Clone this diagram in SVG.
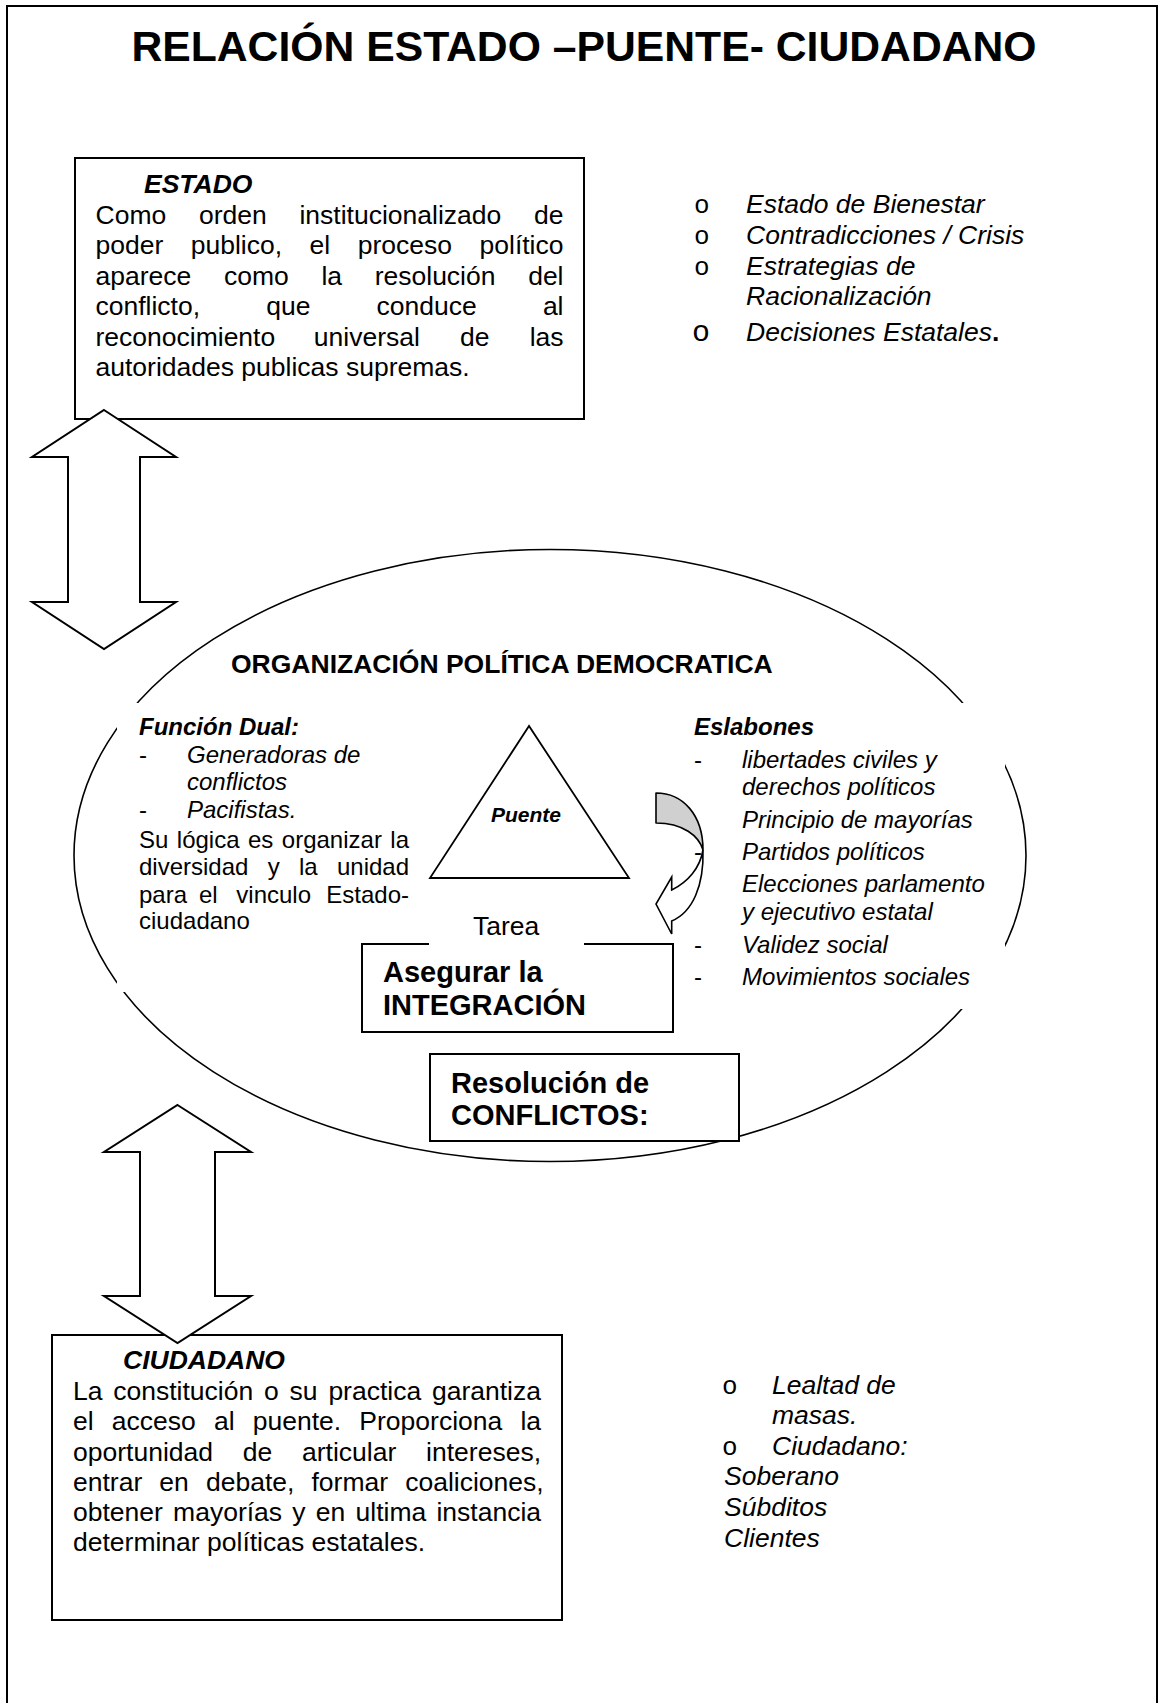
<svg xmlns="http://www.w3.org/2000/svg" width="1163" height="1703" viewBox="0 0 1163 1703">
<style>
text{font-family:"Liberation Sans",Arial,sans-serif;fill:#000}
.b{font-weight:bold}
.i{font-style:italic}
.bi{font-weight:bold;font-style:italic}
.m{font-family:"Liberation Mono","Courier New",monospace}
.box{fill:#fff;stroke:#000;stroke-width:2}
.wb{fill:#fff;stroke:none}
.blk{fill:#fff;stroke:#000;stroke-width:2;stroke-linejoin:miter}
.body{font-size:26.5px}
</style>
<rect width="1163" height="1703" fill="#fff"/>
<rect x="7" y="6" width="1150" height="1720" fill="none" stroke="#000" stroke-width="2"/>
<text id="title" class="b" x="584" y="61" font-size="42.7" text-anchor="middle">RELACIÓN ESTADO –PUENTE- CIUDADANO</text>

<g id="estado">
<rect class="box" x="75" y="158" width="509" height="261"/>
<text class="bi" x="144" y="193" font-size="26.5">ESTADO</text>
<text class="body"><tspan x="95.5" y="224">Como</tspan><tspan x="198.95" y="224">orden</tspan><tspan x="299.48" y="224">institucionalizado</tspan><tspan x="534.02" y="224">de</tspan></text>
<text class="body"><tspan x="95.5" y="254.4">poder</tspan><tspan x="190.78" y="254.4">publico,</tspan><tspan x="309.62" y="254.4">el</tspan><tspan x="357.76" y="254.4">proceso</tspan><tspan x="479.54" y="254.4">político</tspan></text>
<text class="body"><tspan x="95.5" y="284.8">aparece</tspan><tspan x="223.93" y="284.8">como</tspan><tspan x="321.4" y="284.8">la</tspan><tspan x="374.7" y="284.8">resolución</tspan><tspan x="528.15" y="284.8">del</tspan></text>
<text class="body"><tspan x="95.5" y="315.2">conflicto,</tspan><tspan x="266.22" y="315.2">que</tspan><tspan x="376.57" y="315.2">conduce</tspan><tspan x="542.89" y="315.2">al</tspan></text>
<text class="body"><tspan x="95.5" y="345.6">reconocimiento</tspan><tspan x="313.84" y="345.6">universal</tspan><tspan x="460.02" y="345.6">de</tspan><tspan x="529.64" y="345.6">las</tspan></text>
<text class="body" x="95.5" y="376">autoridades publicas supremas.</text>
</g>

<g id="estado-list">
<text class="m" x="694" y="213" font-size="26">o</text>
<text class="i" x="746" y="213" font-size="26.5">Estado de Bienestar</text>
<text class="m" x="694" y="243.5" font-size="26">o</text>
<text class="i" x="746" y="243.5" font-size="26.5">Contradicciones / Crisis</text>
<text class="m" x="694" y="274.5" font-size="26">o</text>
<text class="i" x="746" y="274.5" font-size="26.5">Estrategias de</text>
<text class="i" x="746" y="305" font-size="26.5">Racionalización</text>
<text class="m" x="692" y="341" font-size="30">o</text>
<text x="746" y="341" font-size="26.5"><tspan class="i">Decisiones Estatales</tspan><tspan class="b">.</tspan></text>
</g>

<g id="organizacion">
<ellipse cx="550" cy="855.5" rx="476" ry="306" fill="none" stroke="#000" stroke-width="1.6"/>
<text class="b" x="231" y="673" font-size="26.5">ORGANIZACIÓN POLÍTICA DEMOCRATICA</text>
</g>

<g id="funcion-dual">
<rect class="wb" x="117" y="703" width="295" height="289"/>
<text class="bi" x="139" y="735" font-size="24">Función Dual:</text>
<text x="139" y="763" font-size="24">-</text>
<text class="i" x="187" y="763" font-size="24">Generadoras de</text>
<text class="i" x="187" y="790" font-size="24">conflictos</text>
<text x="139" y="818" font-size="24">-</text>
<text class="i" x="187" y="818" font-size="24">Pacifistas.</text>
<text font-size="24"><tspan x="139" y="848">Su</tspan><tspan x="176.83" y="848">lógica</tspan><tspan x="248" y="848">es</tspan><tspan x="281.82" y="848">organizar</tspan><tspan x="390.33" y="848">la</tspan></text>
<text font-size="24"><tspan x="139" y="875">diversidad</tspan><tspan x="267.67" y="875">y</tspan><tspan x="298.97" y="875">la</tspan><tspan x="336.94" y="875">unidad</tspan></text>
<text font-size="24"><tspan x="139" y="903">para</tspan><tspan x="199" y="903">el</tspan><tspan x="236.31" y="903">vinculo</tspan><tspan x="326.31" y="903">Estado-</tspan></text>
<text x="139" y="929" font-size="24">ciudadano</text>
</g>

<g id="eslabones">
<rect class="wb" x="685" y="703" width="320" height="306"/>
<text class="bi" x="694" y="735" font-size="24">Eslabones</text>
<text x="694" y="768" font-size="24">-</text>
<text class="i" x="742" y="768" font-size="24">libertades civiles y</text>
<text class="i" x="742" y="795" font-size="24">derechos políticos</text>
<text class="i" x="742" y="828" font-size="24">Principio de mayorías</text>
<text x="694" y="860" font-size="24">-</text>
<text class="i" x="742" y="860" font-size="24">Partidos políticos</text>
<text class="i" x="742" y="892" font-size="24">Elecciones parlamento</text>
<text class="i" x="742" y="920" font-size="24">y ejecutivo estatal</text>
<text x="694" y="953" font-size="24">-</text>
<text class="i" x="742" y="953" font-size="24">Validez social</text>
<text x="694" y="985" font-size="24">-</text>
<text class="i" x="742" y="985" font-size="24">Movimientos sociales</text>
</g>

<g id="puente">
<polygon points="529,726 430,878 629,878" fill="#fff" stroke="#000" stroke-width="1.8" stroke-linejoin="miter"/>
<text class="bi" x="526" y="822" font-size="21" text-anchor="middle">Puente</text>
</g>

<g id="integracion">
<rect class="box" x="362" y="944" width="311" height="88"/>
<text class="b" x="383" y="982" font-size="29">Asegurar la</text>
<text class="b" x="383" y="1015" font-size="29">INTEGRACIÓN</text>
</g>

<g id="tarea">
<rect class="wb" x="429" y="905" width="155" height="40.5"/>
<text x="473" y="935" font-size="26.5">Tarea</text>
</g>

<g id="resolucion">
<rect class="box" x="430" y="1054" width="309" height="87"/>
<text class="b" x="451" y="1093" font-size="29">Resolución de</text>
<text class="b" x="451" y="1125" font-size="29">CONFLICTOS:</text>
</g>

<g id="ciudadano">
<rect class="box" x="52" y="1335" width="510" height="285"/>
<text class="bi" x="123" y="1369" font-size="26.5">CIUDADANO</text>
<text class="body"><tspan x="73" y="1400">La</tspan><tspan x="113.29" y="1400">constitución</tspan><tspan x="264.03" y="1400">o</tspan><tspan x="289.58" y="1400">su</tspan><tspan x="328.38" y="1400">practica</tspan><tspan x="431.98" y="1400">garantiza</tspan></text>
<text class="body"><tspan x="73" y="1430">el</tspan><tspan x="111.81" y="1430">acceso</tspan><tspan x="213.95" y="1430">al</tspan><tspan x="252.76" y="1430">puente.</tspan><tspan x="359.35" y="1430">Proporciona</tspan><tspan x="520.4" y="1430">la</tspan></text>
<text class="body"><tspan x="73" y="1460.5">oportunidad</tspan><tspan x="242.77" y="1460.5">de</tspan><tspan x="302.06" y="1460.5">articular</tspan><tspan x="426.11" y="1460.5">intereses,</tspan></text>
<text class="body"><tspan x="73" y="1491">entrar</tspan><tspan x="159.36" y="1491">en</tspan><tspan x="205.97" y="1491">debate,</tspan><tspan x="311.51" y="1491">formar</tspan><tspan x="405.21" y="1491">coaliciones,</tspan></text>
<text class="body"><tspan x="73" y="1521">obtener</tspan><tspan x="173.1" y="1521">mayorías</tspan><tspan x="292.31" y="1521">y</tspan><tspan x="315.8" y="1521">en</tspan><tspan x="355.51" y="1521">ultima</tspan><tspan x="436.43" y="1521">instancia</tspan></text>
<text class="body" x="73" y="1551">determinar políticas estatales.</text>
</g>

<g id="ciudadano-list">
<text class="m" x="722" y="1394" font-size="26">o</text>
<text class="i" x="772" y="1394" font-size="26.5">Lealtad de</text>
<text class="i" x="772" y="1424" font-size="26.5">masas.</text>
<text class="m" x="722" y="1455" font-size="26">o</text>
<text class="i" x="772" y="1455" font-size="26.5">Ciudadano:</text>
<text class="i" x="724" y="1485" font-size="26.5">Soberano</text>
<text class="i" x="724" y="1516" font-size="26.5">Súbditos</text>
<text class="i" x="724" y="1547" font-size="26.5">Clientes</text>
</g>

<g id="connectors">
<polygon class="blk" points="104,410 176,457 140,457 140,602 176,602 104,649 32,602 68,602 68,457 32,457"/>
<polygon class="blk" points="177.5,1105 251,1152 215,1152 215,1296 251,1296 177.5,1343 104,1296 140,1296 140,1152 104,1152"/>
<path d="M656,793 C683,793 703,815 703,850 C699,836 683,823 656,823 Z" fill="#d0d0d0" stroke="#000" stroke-width="1.6" stroke-linejoin="round"/>
<path d="M703,850 C704,885 693,912 671.7,921 L671.7,934 L656,904 L671.7,877 L671.7,890 C688,882 700,868 703,850 Z" fill="#fff" stroke="#000" stroke-width="1.6" stroke-linejoin="miter"/>
</g>
</svg>
